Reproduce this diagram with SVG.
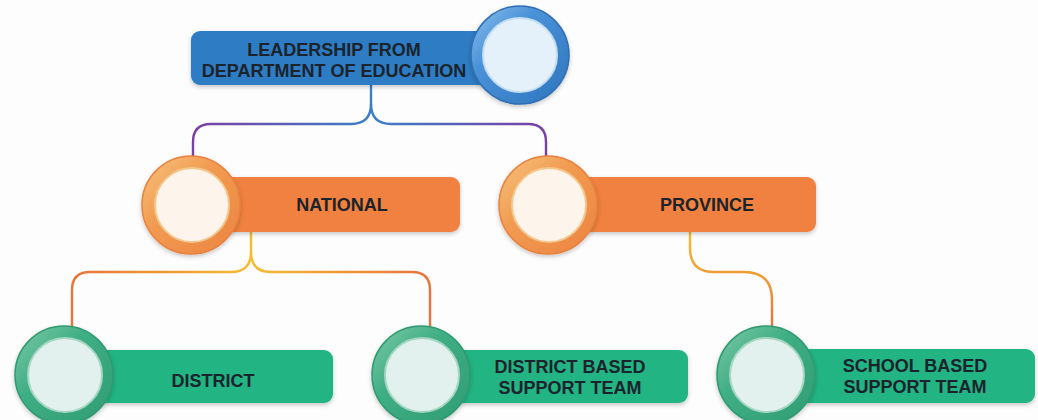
<svg xmlns="http://www.w3.org/2000/svg" width="1038" height="420" viewBox="0 0 1038 420">
<defs>
<style>
.lbl{font-family:"Liberation Sans",Arial,sans-serif;font-weight:bold;font-size:18px;fill:#1b232c;text-anchor:middle}
.conn{fill:none;stroke-width:2.4;stroke-linecap:round}
.inB{fill:#e4f1fb;stroke:#c4ddf1;stroke-width:2}
.inO{fill:#fdf5eb;stroke:#f3c88e;stroke-width:2}
.inG{fill:#e2f1ee;stroke:#a5d6c3;stroke-width:2}
</style>
<filter id="sh" x="-20%" y="-20%" width="140%" height="150%">
<feDropShadow dx="0" dy="2" stdDeviation="2" flood-color="#000" flood-opacity="0.22"/>
</filter>
<linearGradient id="ringB" x1="0" y1="0" x2="1" y2="1">
<stop offset="0" stop-color="#8cc0ec"/>
<stop offset="0.35" stop-color="#4a92d8"/>
<stop offset="1" stop-color="#2d74bd"/>
</linearGradient>
<linearGradient id="ringO" x1="0" y1="0" x2="1" y2="1">
<stop offset="0" stop-color="#f7c47e"/>
<stop offset="0.4" stop-color="#f29b52"/>
<stop offset="1" stop-color="#ec8440"/>
</linearGradient>
<linearGradient id="ringG" x1="0" y1="0" x2="1" y2="1">
<stop offset="0" stop-color="#7cc9a8"/>
<stop offset="0.4" stop-color="#3fae84"/>
<stop offset="1" stop-color="#2f9c74"/>
</linearGradient>
<linearGradient id="gTop" gradientUnits="userSpaceOnUse" x1="193" y1="0" x2="549" y2="0">
<stop offset="0" stop-color="#7a3fa3"/>
<stop offset="0.5" stop-color="#3c7fc6"/>
<stop offset="1" stop-color="#7a3fa3"/>
</linearGradient>
<linearGradient id="gNat" gradientUnits="userSpaceOnUse" x1="72" y1="0" x2="430" y2="0">
<stop offset="0" stop-color="#e8733b"/>
<stop offset="0.5" stop-color="#f6bc30"/>
<stop offset="1" stop-color="#e8733b"/>
</linearGradient>
<linearGradient id="gProv" gradientUnits="userSpaceOnUse" x1="0" y1="232" x2="0" y2="327">
<stop offset="0" stop-color="#f6bc30"/>
<stop offset="1" stop-color="#e8733b"/>
</linearGradient>
</defs>
<rect x="0" y="0" width="1038" height="420" fill="#fdfdfd"/>

<g id="connectors">
<path class="conn" stroke="url(#gTop)" d="M371,85 V104 Q371,124 351,124 H211 Q193,124 193,142 V156"/>
<path class="conn" stroke="url(#gTop)" d="M371,104 Q371,124 391,124 H528 Q546,124 546,142 V157"/>
<path class="conn" stroke="url(#gNat)" d="M251,232 V252 Q251,272 231,272 H90 Q72,272 72,290 V327"/>
<path class="conn" stroke="url(#gNat)" d="M251,252 Q251,272 271,272 H412 Q430,272 430,290 V327"/>
<path class="conn" stroke="url(#gProv)" d="M690,232 V248 Q690,272 714,272 H744 Q772,272 772,300 V327"/>
</g>

<g id="node-leadership">
<rect x="191" y="31" width="320" height="54" rx="9" fill="#2d7bc3" filter="url(#sh)"/>
<circle cx="520" cy="55" r="49" fill="url(#ringB)" stroke="#2f6fb3" stroke-width="1.5" filter="url(#sh)"/>
<circle cx="520" cy="55" r="37" class="inB"/>
<text class="lbl" x="334" y="56">LEADERSHIP FROM</text>
<text class="lbl" x="334" y="77">DEPARTMENT OF EDUCATION</text>
</g>

<g id="node-national">
<rect x="215" y="177" width="245" height="55" rx="9" fill="#f08141" filter="url(#sh)"/>
<circle cx="191" cy="205" r="49" fill="url(#ringO)" stroke="#e8823f" stroke-width="1.5" filter="url(#sh)"/>
<circle cx="192" cy="205" r="37" class="inO"/>
<text class="lbl" x="342" y="211">NATIONAL</text>
</g>

<g id="node-province">
<rect x="572" y="177" width="244" height="55" rx="9" fill="#f08141" filter="url(#sh)"/>
<circle cx="548" cy="205" r="49" fill="url(#ringO)" stroke="#e8823f" stroke-width="1.5" filter="url(#sh)"/>
<circle cx="549" cy="205" r="37" class="inO"/>
<text class="lbl" x="707" y="211">PROVINCE</text>
</g>

<g id="node-district">
<rect x="90" y="350" width="243" height="53" rx="9" fill="#22b483" filter="url(#sh)"/>
<circle cx="64" cy="375" r="49" fill="url(#ringG)" stroke="#2f9a72" stroke-width="1.5" filter="url(#sh)"/>
<circle cx="65" cy="375" r="37" class="inG"/>
<text class="lbl" x="213" y="387">DISTRICT</text>
</g>

<g id="node-dbst">
<rect x="445" y="350" width="243" height="53" rx="9" fill="#22b483" filter="url(#sh)"/>
<circle cx="421" cy="375" r="49" fill="url(#ringG)" stroke="#2f9a72" stroke-width="1.5" filter="url(#sh)"/>
<circle cx="422" cy="375" r="37" class="inG"/>
<text class="lbl" x="570" y="373">DISTRICT BASED</text>
<text class="lbl" x="570" y="394">SUPPORT TEAM</text>
</g>

<g id="node-sbst">
<rect x="790" y="349" width="245" height="54" rx="9" fill="#22b483" filter="url(#sh)"/>
<circle cx="766" cy="375" r="49" fill="url(#ringG)" stroke="#2f9a72" stroke-width="1.5" filter="url(#sh)"/>
<circle cx="767" cy="375" r="37" class="inG"/>
<text class="lbl" x="915" y="372">SCHOOL BASED</text>
<text class="lbl" x="915" y="393">SUPPORT TEAM</text>
</g>
</svg>
